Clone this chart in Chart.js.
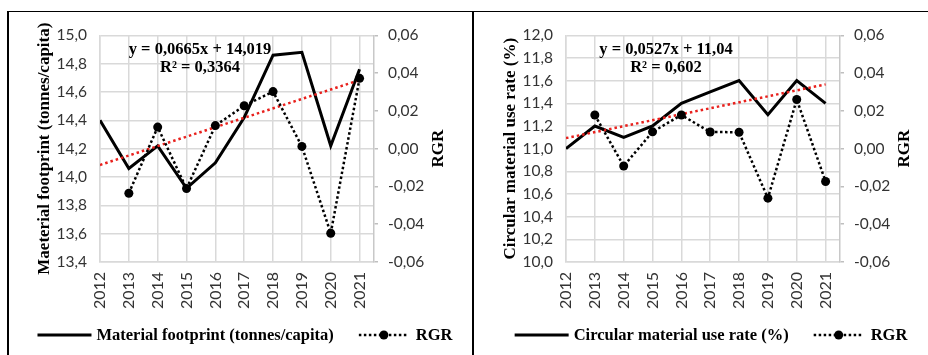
<!DOCTYPE html>
<html>
<head>
<meta charset="utf-8">
<script src="https://cdn.jsdelivr.net/npm/chart.js@4.4.1/dist/chart.umd.min.js"></script>
<style>
  body { margin: 0; background: #fff; width: 928px; height: 355px; overflow: hidden; position: relative; }
  #frame { position: absolute; left: 7px; top: 11px; width: 930px; height: 380px; border-top: 1.5px solid #000; border-left: 2px solid #000; }
  #divider { position: absolute; left: 472px; top: 11px; width: 2px; height: 380px; background: #000; }
  canvas { position: absolute; }
  #leftChart { left: 9px; top: 13px; }
  #rightChart { left: 475px; top: 13px; }
</style>
</head>
<body>
<div id="frame"></div>
<div id="divider"></div>
<canvas id="leftChart" width="463" height="342"></canvas>
<canvas id="rightChart" width="453" height="342"></canvas>
<script>
const years = [2012, 2013, 2014, 2015, 2016, 2017, 2018, 2019, 2020, 2021];

// material footprint (tonnes/capita) and its RGR
const footprint = [14.4, 14.06, 14.22, 13.92, 14.1, 14.42, 14.86, 14.88, 14.22, 14.76];
const footprintRGR = [null, -0.0236, 0.0114, -0.0211, 0.0122, 0.0227, 0.0302, 0.0012, -0.0448, 0.0372];
const footprintTrend = [14.085, 14.684];   // at 2012 and 2021
const footprintEq = ["y = 0,0665x + 14,019", "R² = 0,3364"];

// circular material use rate (%) and its RGR
const cmur = [11.0, 11.2, 11.1, 11.2, 11.4, 11.5, 11.6, 11.3, 11.6, 11.4];
const cmurRGR = [null, 0.0178, -0.0092, 0.0089, 0.0178, 0.0088, 0.0087, -0.0262, 0.026, -0.0174];
const cmurTrend = [11.093, 11.567];
const cmurEq = ["y = 0,0527x + 11,04", "R² = 0,602"];

const SERIF = '"Liberation Serif", "Times New Roman", serif';
const SANS = 'Lato, "Liberation Sans", sans-serif';
const GRID = '#d9d9d9';

Chart.defaults.color = '#333';

function pts(vals) {
    return years.map((yr, i) => ({ x: yr, y: vals[i] }));
}

// axis titles, equation and legend, drawn like the Excel original
const decor = {
    id: 'decor',
    afterDraw(chart, args, opts) {
        const ctx = chart.ctx;
        const a = chart.chartArea;
        const midY = (a.top + a.bottom) / 2;
        ctx.save();
        ctx.fillStyle = '#000';
        ctx.textAlign = 'center';
        ctx.textBaseline = 'middle';
        ctx.font = 'bold 17px ' + SERIF;

        ctx.save();
        ctx.translate(a.left - 55, midY);
        ctx.rotate(-Math.PI / 2);
        ctx.fillText(opts.yTitle, 0, 0);
        ctx.restore();

        ctx.save();
        ctx.translate(a.right + 65, midY);
        ctx.rotate(-Math.PI / 2);
        ctx.fillText('RGR', 0, 0);
        ctx.restore();

        ctx.font = 'bold 16.5px ' + SERIF;
        ctx.fillText(opts.eq[0], a.left + 100, 37);
        ctx.fillText(opts.eq[1], a.left + 100, 55);

        // legend
        ctx.font = 'bold 16.5px ' + SERIF;
        ctx.textAlign = 'left';
        const ly = 322;
        const w1 = ctx.measureText(opts.label).width;
        const w2 = ctx.measureText('RGR').width;
        const total = 54 + 5 + w1 + 25 + 50 + 7 + w2;
        let x = 236 - total / 2;

        ctx.strokeStyle = '#000';
        ctx.lineWidth = 3;
        ctx.beginPath();
        ctx.moveTo(x, ly);
        ctx.lineTo(x + 54, ly);
        ctx.stroke();
        x += 59;
        ctx.fillText(opts.label, x, ly + 1);
        x += w1 + 25;

        ctx.lineWidth = 2.5;
        ctx.setLineDash([2.5, 2.5]);
        ctx.beginPath();
        ctx.moveTo(x, ly);
        ctx.lineTo(x + 50, ly);
        ctx.stroke();
        ctx.setLineDash([]);
        ctx.beginPath();
        ctx.arc(x + 25, ly, 4.5, 0, Math.PI * 2);
        ctx.fill();
        x += 57;
        ctx.fillText('RGR', x, ly + 1);
        ctx.restore();
    }
};

function makeChart(id, main, rgr, trend, eq, label, yTitle, yMin, yMax, rightWidth) {
    const ctx = document.getElementById(id).getContext('2d');
    return new Chart(ctx, {
        type: 'line',
        data: {
            datasets: [{
                data: pts(rgr),
                yAxisID: 'y1',
                borderColor: '#000',
                borderWidth: 2.5,
                borderDash: [2.5, 2.5],
                pointRadius: 4.5,
                pointBackgroundColor: '#000',
                pointBorderWidth: 0,
                spanGaps: false,
                tension: 0,
            },
            {
                data: [{ x: years[0], y: trend[0] }, { x: years[years.length - 1], y: trend[1] }],
                yAxisID: 'y',
                borderColor: '#e8201c',
                borderWidth: 2.5,
                borderDash: [2.5, 3],
                pointRadius: 0,
                tension: 0,
            },
            {
                data: pts(main),
                yAxisID: 'y',
                borderColor: '#000',
                borderWidth: 3,
                pointRadius: 0,
                tension: 0,
            }]
        },
        options: {
            responsive: false,
            animation: false,
            devicePixelRatio: 1,
            layout: { padding: { top: 20, left: 0, right: 0, bottom: 0 } },
            plugins: {
                legend: { display: false },
                tooltip: { enabled: false },
                decor: { yTitle: yTitle, label: label, eq: eq },
            },
            scales: {
                x: {
                    type: 'linear',
                    min: 2012,
                    max: 2021.5,
                    afterBuildTicks: (scale) => {
                        scale.ticks = years.map(v => ({ value: v }));
                    },
                    afterFit: (scale) => { scale.height = 93; },
                    ticks: {
                        autoSkip: false,
                        minRotation: 90,
                        maxRotation: 90,
                        padding: 10,
                        font: { family: SANS, size: 16 },
                        callback: (v) => String(v),
                    },
                    grid: { color: GRID, lineWidth: 1.5, drawTicks: false },
                    border: { color: GRID, width: 1.5 },
                },
                y: {
                    position: 'left',
                    min: yMin,
                    max: yMax,
                    afterFit: (scale) => { scale.width = 91; },
                    ticks: {
                        stepSize: 0.2,
                        padding: 13,
                        font: { family: SANS, size: 15.5 },
                        callback: (v) => v.toFixed(1).replace('.', ','),
                    },
                    grid: { color: GRID, lineWidth: 1.5, drawTicks: false },
                    border: { color: GRID, width: 1.5 },
                },
                y1: {
                    position: 'right',
                    min: -0.06,
                    max: 0.06,
                    afterFit: (scale) => { scale.width = rightWidth; },
                    ticks: {
                        stepSize: 0.02,
                        padding: 10,
                        font: { family: SANS, size: 15.5 },
                        callback: (v) => v.toFixed(2).replace('.', ','),
                    },
                    grid: { drawOnChartArea: false, drawTicks: true, tickLength: 4, color: '#bfbfbf', lineWidth: 1.5 },
                    border: { color: '#c8c8c8', width: 1.5 },
                },
            },
        },
        plugins: [decor],
    });
}

// the original keeps the typo in the left axis title
const leftChart = makeChart('leftChart', footprint, footprintRGR, footprintTrend, footprintEq,
    'Material footprint (tonnes/capita)', 'Maeterial footprint (tonnes/capita)', 13.4, 15.0, 98);

const rightChart = makeChart('rightChart', cmur, cmurRGR, cmurTrend, cmurEq,
    'Circular material use rate (%)', 'Circular material use rate (%)', 10.0, 12.0, 88);
</script>
</body>
</html>
